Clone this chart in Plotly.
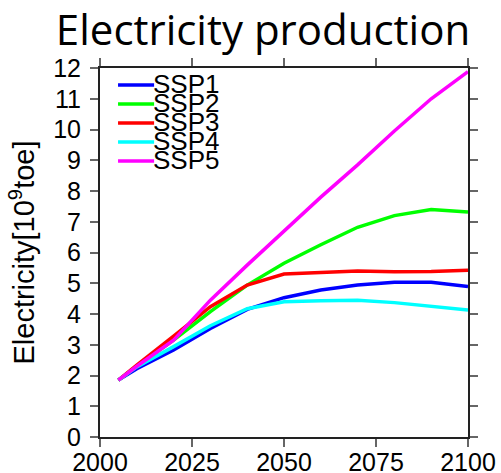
import plotly.graph_objects as go

# Electricity production by SSP scenario (10^9 toe)
years = [2005, 2010, 2020, 2030, 2040, 2050, 2060, 2070, 2080, 2090, 2100]
ssp1 = [1.85, 2.22, 2.83, 3.53, 4.15, 4.53, 4.78, 4.94, 5.03, 5.03, 4.89]
ssp2 = [1.85, 2.30, 3.15, 4.08, 4.94, 5.65, 6.25, 6.82, 7.20, 7.40, 7.32]
ssp3 = [1.85, 2.34, 3.28, 4.24, 4.94, 5.30, 5.35, 5.40, 5.37, 5.38, 5.42]
ssp4 = [1.85, 2.28, 2.94, 3.62, 4.17, 4.40, 4.43, 4.45, 4.37, 4.26, 4.13]
ssp5 = [1.85, 2.30, 3.15, 4.45, 5.59, 6.70, 7.80, 8.85, 9.95, 11.00, 11.88]

names = ["SSP1", "SSP2", "SSP3", "SSP4", "SSP5"]
series = [ssp1, ssp2, ssp3, ssp4, ssp5]
colors = ["#0000ff", "#00ff00", "#ff0000", "#00ffff", "#ff00ff"]

x_ticks = [2000, 2025, 2050, 2075, 2100]
y_ticks = list(range(0, 13))

fig = go.Figure()
for name, vals, col in zip(names, series, colors):
    fig.add_trace(go.Scatter(x=years, y=vals, mode="lines", name=name,
                             line=dict(color=col, width=3.5),
                             showlegend=False))

# compact legend inside the plot: short line samples with tightly stacked labels
leg_x0, leg_x1 = 0.049, 0.147
leg_top, leg_step = 0.954, 0.0515
for i, (name, col) in enumerate(zip(names, colors)):
    yy = leg_top - i * leg_step
    fig.add_shape(type="line", xref="paper", yref="paper",
                  x0=leg_x0, x1=leg_x1, y0=yy, y1=yy,
                  line=dict(color=col, width=3.5))
    fig.add_annotation(xref="paper", yref="paper", x=leg_x1, y=yy,
                       text=name, showarrow=False, xanchor="left",
                       yanchor="middle", xshift=-3, yshift=1,
                       font=dict(family="Liberation Sans", size=26,
                                 color="black"))

axis_common = dict(showline=True, linecolor="#222", linewidth=2,
                   mirror="ticks", ticks="outside", ticklen=8,
                   tickwidth=2, tickcolor="#666", showgrid=False,
                   zeroline=False, automargin=False,
                   tickfont=dict(family="Liberation Sans", size=25,
                                 color="black"))

fig.update_layout(
    width=501, height=473,
    margin=dict(l=100, r=33, t=68, b=36),
    paper_bgcolor="white", plot_bgcolor="white",
    title=dict(text="Electricity production", x=0.525, xanchor="center",
               y=0.905, yanchor="bottom",
               font=dict(family="Open Sans", size=42, color="black")),
    xaxis=dict(range=[2000, 2100], tickvals=x_ticks, ticklabelstandoff=-6,
               **axis_common),
    yaxis=dict(range=[0, 12], tickvals=y_ticks, ticklabelstandoff=4,
               title=dict(text="Electricity[10<sup>9</sup>toe]", standoff=10,
                          font=dict(family="Liberation Sans", size=29,
                                    color="black")),
               **axis_common),
)

fig.write_html("out.html")
